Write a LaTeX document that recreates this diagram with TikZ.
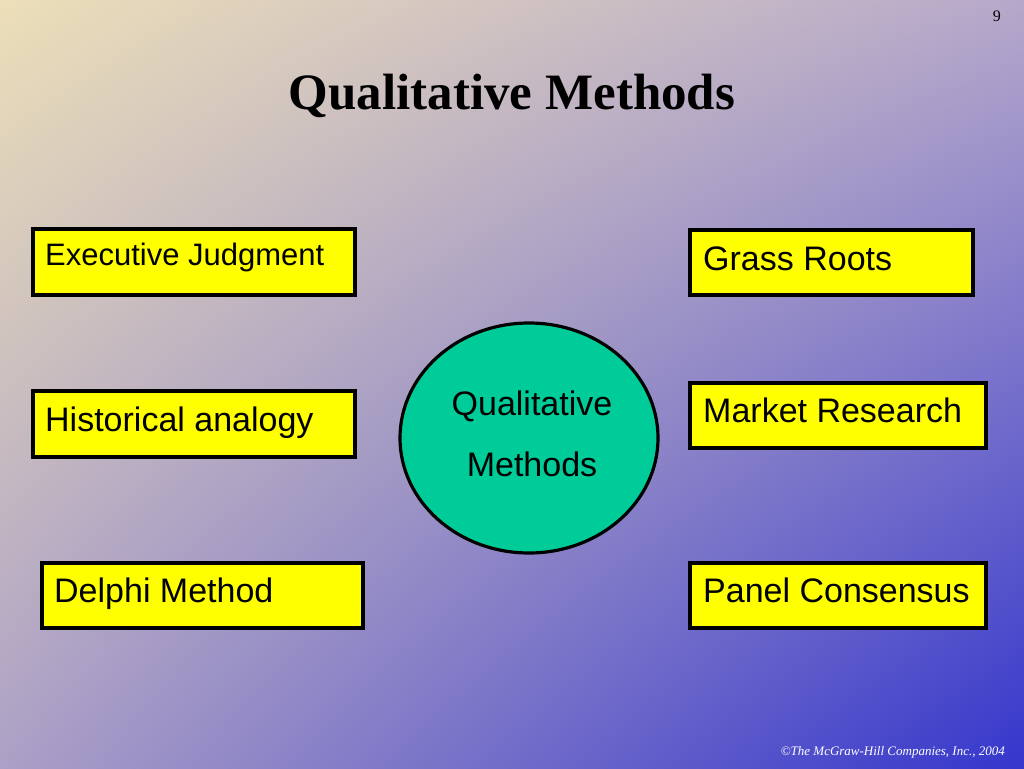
\documentclass[tikz,border=0pt]{standalone}
\usepackage{fontspec}
\setmainfont{Liberation Serif}
\newfontfamily\arialf{Liberation Sans}
\usetikzlibrary{shapes.geometric,shadings}
\definecolor{bgTL}{RGB}{236,223,184}
\definecolor{bgTR}{RGB}{182,168,202}
\definecolor{bgBL}{RGB}{172,160,198}
\definecolor{bgBR}{RGB}{52,54,204}
\definecolor{boxyellow}{RGB}{255,255,0}
\definecolor{ovalgreen}{RGB}{0,204,153}
\tikzset{
  ybox/.style={draw=black, line width=3.2pt, fill=boxyellow},
  blabel/.style={anchor=base west, inner sep=0pt, font=\arialf\fontsize{34}{38}\selectfont},
}
\begin{document}
\begin{tikzpicture}[x=1pt,y=-1pt]
\useasboundingbox (0,0) rectangle (1024,768);
\shade[upper left=bgTL, upper right=bgTR, lower left=bgBL, lower right=bgBR] (0,0) rectangle (1024,768);
% page number
\node[anchor=base east, inner sep=0pt, font=\fontsize{16}{18}\selectfont] (pg) at (1001,22) {9};
% title
\node[anchor=base, inner sep=0pt, font=\bfseries\fontsize{51}{58}\selectfont] (title) at (512,109) {Qualitative Methods};
% boxes
\draw[ybox] (33,229) rectangle (355,295);
\node[blabel, font=\arialf\fontsize{31}{34}\selectfont] (ej) at (45,265) {Executive Judgment};
\draw[ybox] (690,230) rectangle (973,295);
\node[blabel] (gr) at (703,270) {Grass Roots};
\draw[ybox] (33,391) rectangle (355,457);
\node[blabel] (ha) at (45,431) {Historical analogy};
\draw[ybox] (690,383) rectangle (986,448);
\node[blabel] (mr) at (703,422) {Market Research};
\draw[ybox] (42,563) rectangle (363,628);
\node[blabel] (dm) at (54,602) {Delphi Method};
\draw[ybox] (690,563) rectangle (986,628);
\node[blabel] (pc) at (703,602) {Panel Consensus};
% center ellipse
\node[draw=black, line width=3.2pt, fill=ovalgreen, ellipse, minimum width=258pt, minimum height=230pt, inner sep=0pt] (qm) at (529,438) {};
\node[anchor=base, inner sep=0pt, font=\arialf\fontsize{34}{38}\selectfont] (q1) at (532,415) {Qualitative};
\node[anchor=base, inner sep=0pt, font=\arialf\fontsize{34}{38}\selectfont] (q2) at (532,476) {Methods};
% copyright
\node[anchor=base east, inner sep=0pt, font=\itshape\fontsize{13}{16}\selectfont, text=white] (copy) at (1005,755) {\textcopyright The McGraw-Hill Companies, Inc., 2004};
\end{tikzpicture}
\end{document}
